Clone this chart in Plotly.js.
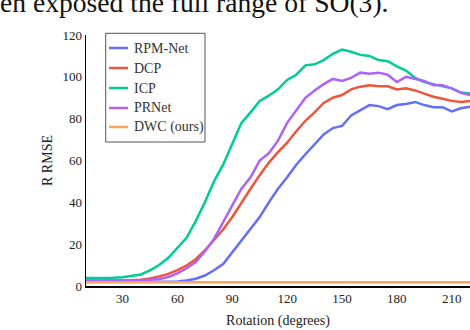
<!DOCTYPE html>
<html>
<head>
<meta charset="utf-8">
<script src="https://cdn.plot.ly/plotly-3.0.1.min.js"></script>
<style>html,body{margin:0;padding:0;background:#fff;}#chart{width:470px;height:330px;}</style>
</head>
<body>
<div id="chart"></div>
<script>
const rotation = [10,15,20,25,30,35,40,45,50,55,60,65,70,75,80,85,90,95,100,105,110,115,120,125,130,135,140,145,150,155,160,165,170,175,180,185,190,195,200,205,210,215,220];

const rpmNet = [2.0,2.0,2.0,2.0,2.0,2.0,2.0,2.0,2.0,2.0,2.1,2.6,3.5,5.0,7.5,10.5,16,21.5,27,33,40,46.5,52,58,63,68,72.5,75.5,76.5,81.5,84,86.5,86,84.5,86.5,87,88,86.5,85.5,85.5,83.5,85,85.7];
const dcp = [2.5,2.5,2.5,2.5,2.6,2.8,3.0,3.6,4.6,5.8,7.6,9.8,12.8,17,22,27,33,40,46.5,53,59,64,68.5,74,79,83,87.5,90,91.3,94,95.3,96,95.5,95.5,94,94.5,93.5,92,90.5,89.5,88.5,88,88.5];
const icp = [3.8,3.8,3.9,4.0,4.2,4.8,5.5,7.5,10,13.5,18,23,31,40,50,58,68,78,83,88.5,91,94,98.5,101,105.5,106,108,111,113,112,110.5,110,108,107.5,105,103,99.5,97.5,96.5,95.5,94.5,92.5,92];
const prNet = [2.6,2.6,2.6,2.6,2.6,2.7,2.8,3.0,3.4,4.3,6.0,8.5,11.5,16.5,22.5,30.5,38.5,46.5,52,60,63.5,69.5,78,84,90,93.5,96.5,99,98,99.5,102,101.5,102,101,97.5,100,99,98,96,96,94.5,92.3,91.3];
const dwc = [1.8,1.8,1.8,1.8,1.8,1.8,1.8,1.8,1.8,1.8,1.8,1.8,1.8,1.8,1.8,1.8,1.8,1.8,1.8,1.8,1.8,1.8,1.8,1.8,1.8,1.8,1.8,1.8,1.8,1.8,1.8,1.8,1.8,1.8,1.8,1.8,1.8,1.8,1.8,1.8,1.8,1.8,1.8];

const seriesNames = ["RPM-Net","DCP","ICP","PRNet","DWC (ours)"];
const seriesValues = [rpmNet, dcp, icp, prNet, dwc];
const seriesColors = ["#636efa","#ef553b","#00cc96","#ab63fa","#ffa15a"];

const xTicks = [30,60,90,120,150,180,210];
const yTicks = [0,20,40,60,80,100,120];

const serif = "'Liberation Serif', 'Times New Roman', Times, serif";

const traces = seriesNames.map((n,i)=>({
  x: rotation, y: seriesValues[i], name: n, type: "scatter", mode: "lines",
  line: {color: seriesColors[i], width: 2.5}, showlegend: false
}));

// legend box drawn in paper coordinates (plot area: 384 x 251 px)
const legX0 = 0.0513, legX1 = 0.3099, legY0 = 0.5737, legY1 = 1.0068;
const legLineX0 = 0.0599, legLineX1 = 0.1094, legTextX = 0.1198;
const legRowY = [0.9482, 0.8685, 0.7888, 0.7092, 0.6335];

const shapes = [{
  type: "rect", xref: "paper", yref: "paper", x0: legX0, x1: legX1, y0: legY0, y1: legY1,
  line: {color: "#555", width: 1}, fillcolor: "#fff", layer: "above"
}];
const annotations = [{
  text: "en exposed the full range of SO(3).",
  xref: "paper", yref: "paper", x: -0.229, y: 1.1287,
  xanchor: "left", yanchor: "middle", showarrow: false,
  font: {family: serif, size: 27.6, color: "#111"}
}];
seriesNames.forEach((n,i)=>{
  shapes.push({type: "line", xref: "paper", yref: "paper", x0: legLineX0, x1: legLineX1,
    y0: legRowY[i], y1: legRowY[i], line: {color: seriesColors[i], width: 2.5}, layer: "above"});
  annotations.push({text: n, xref: "paper", yref: "paper", x: legTextX, y: legRowY[i],
    xanchor: "left", yanchor: "middle", showarrow: false,
    font: {family: serif, size: 14, color: "#333"}});
});

const layout = {
  width: 470, height: 330,
  margin: {l: 86, r: 0, t: 35, b: 44},
  paper_bgcolor: "#fff", plot_bgcolor: "#fff",
  font: {family: serif, size: 13, color: "#222"},
  showlegend: false,
  xaxis: {
    range: [10, 220], tickvals: xTicks, ticktext: xTicks.map(String),
    showgrid: false, zeroline: false, showline: true, linecolor: "#000", linewidth: 1.5,
    ticks: "", tickfont: {family: serif, size: 13, color: "#222"},
    title: {text: "Rotation (degrees)", font: {family: serif, size: 14, color: "#222"}, standoff: 10}
  },
  yaxis: {
    range: [0, 120], tickvals: yTicks, ticktext: yTicks.map(String),
    showgrid: false, zeroline: false, showline: true, linecolor: "#000", linewidth: 1.5,
    ticks: "", tickfont: {family: serif, size: 13, color: "#222"},
    title: {text: "R RMSE", font: {family: serif, size: 14, color: "#222"}, standoff: 6}
  },
  shapes: shapes,
  annotations: annotations
};

Plotly.newPlot("chart", traces, layout, {displayModeBar: false, staticPlot: true});
</script>
</body>
</html>
